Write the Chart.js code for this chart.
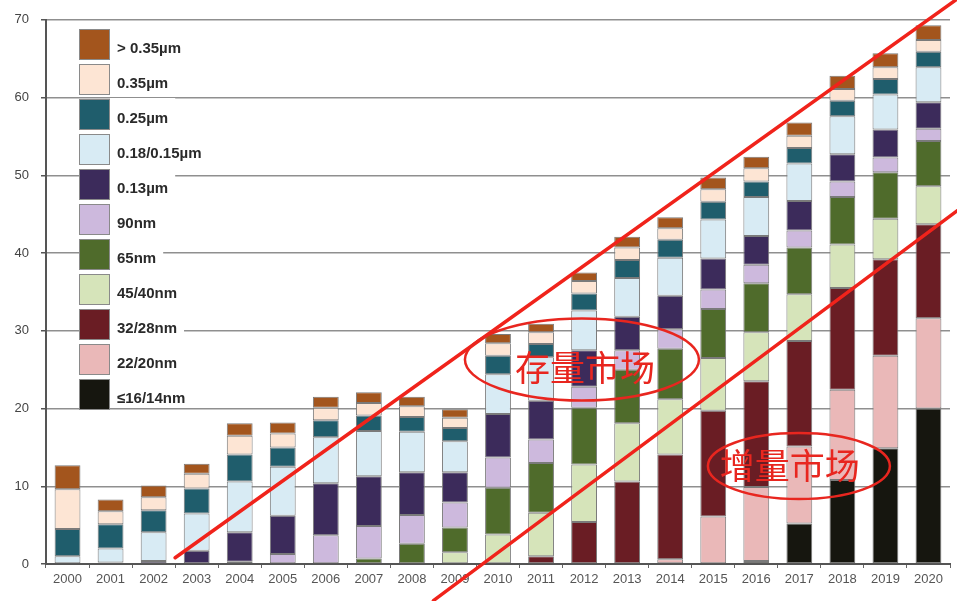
<!DOCTYPE html>
<html>
<head>
<meta charset="utf-8">
<script src="https://cdn.jsdelivr.net/npm/chart.js@4"></script>
<style>
  html, body { margin: 0; padding: 0; background: #fff; }
  #wrap { width: 957px; height: 601px; }
</style>
</head>
<body>
<div id="wrap"><canvas id="chart" width="957" height="601"></canvas></div>
<script>
// Foundry capacity by node, 2000-2020 (stacked, bottom -> top)
const years = ['2000','2001','2002','2003','2004','2005','2006','2007','2008','2009','2010',
               '2011','2012','2013','2014','2015','2016','2017','2018','2019','2020'];
const yTicks = [0, 10, 20, 30, 40, 50, 60, 70];

const nodeNames = ['≤16/14nm', '22/20nm', '32/28nm', '45/40nm', '65nm', '90nm',
                   '0.13µm', '0.18/0.15µm', '0.25µm', '0.35µm', '> 0.35µm'];
const nodeColors = ['#16160f', '#eab8b8', '#6a1d24', '#d6e4ba', '#4f6b2b', '#cdb9dd',
                    '#3c2b5b', '#d8ebf4', '#1f5d6c', '#fde5d4', '#a3551d'];

const n16  = [0,0,0,0,0,0,0,0,0,0,0,0,0,0,0,0,0.4,5.2,10.8,14.9,20.0];
const n22  = [0,0,0,0,0,0,0,0,0,0,0,0,0,0,0.6,6.1,9.5,9.9,11.6,11.9,11.6];
const n32  = [0,0,0,0,0,0,0,0,0,0,0,1.0,5.4,10.6,13.5,13.6,13.6,13.6,13.1,12.4,12.1];
const n45  = [0,0,0,0,0,0,0,0,0,1.5,3.8,5.6,7.4,7.5,7.1,6.8,6.3,6.0,5.6,5.2,4.9];
const n65  = [0,0,0,0,0,0,0,0.7,2.6,3.2,6.0,6.4,7.3,6.9,6.5,6.3,6.3,6.0,6.1,6.0,5.8];
const n90  = [0,0,0,0,0.3,1.3,3.7,4.2,3.7,3.2,3.9,3.0,2.7,2.5,2.5,2.5,2.4,2.2,2.0,1.9,1.6];
const n130 = [0,0.2,0.4,1.7,3.8,4.9,6.7,6.4,5.5,3.9,5.6,5.0,4.7,4.3,4.3,4.0,3.7,3.8,3.5,3.6,3.4];
const n180 = [1.0,1.8,3.7,4.8,6.5,6.3,5.9,5.8,5.2,4.0,5.1,5.6,5.1,5.0,4.9,5.0,5.0,4.8,4.9,4.5,4.5];
const n250 = [3.5,3.1,2.8,3.2,3.5,2.5,2.2,2.0,1.9,1.7,2.4,1.7,2.2,2.3,2.3,2.3,2.0,2.0,2.0,2.0,2.0];
const n350 = [5.1,1.7,1.7,1.9,2.4,1.8,1.6,1.6,1.4,1.3,1.6,1.5,1.6,1.6,1.5,1.6,1.7,1.6,1.5,1.5,1.5];
const nGt  = [3.1,1.5,1.5,1.3,1.6,1.4,1.4,1.4,1.2,1.1,1.2,1.1,1.1,1.4,1.4,1.5,1.5,1.7,1.7,1.8,1.9];

const seriesValues = [n16, n22, n32, n45, n65, n90, n130, n180, n250, n350, nGt];

// Red hand-drawn annotations, given in data units (category index, value)
const marketLines = [
    [[2.5, 0.8], [20.9, 73.6]],
    [[8.5, -4.7], [20.9, 46.4]]
];
const marketNotes = [
    { text: '存量市场', ellipse: [11.95, 26.3], textAt: [12.02, 25.3], rx: 117, ry: 41 },
    { text: '增量市场', ellipse: [16.99, 12.6], textAt: [16.78, 12.6], rx: 91, ry: 33 }
];

const datasets = seriesValues.map((vals, i) => ({
    label: nodeNames[i],
    data: vals,
    backgroundColor: nodeColors[i],
    borderColor: '#7a7a7a',
    borderWidth: 1,
    borderSkipped: false,
    barPercentage: 0.6,
    categoryPercentage: 1
}));

// legend drawn inside the plot, top entry = top of stack
const boxLegend = {
    id: 'boxLegend',
    afterDatasetsDraw(chart) {
        const ctx = chart.ctx;
        ctx.save();
        ctx.font = 'bold 15px "Liberation Sans", Arial, sans-serif';
        ctx.textBaseline = 'middle';
        const order = nodeNames.map((_, i) => i).reverse();
        order.forEach((idx, row) => {
            const top = 29 + row * 35;
            const w = ctx.measureText(nodeNames[idx]).width;
            ctx.fillStyle = '#fff';
            ctx.fillRect(110, top - 1, w + 14, 28);
            ctx.fillStyle = nodeColors[idx];
            ctx.fillRect(79, top, 31, 31);
            ctx.strokeStyle = '#8a8a8a';
            ctx.lineWidth = 1;
            ctx.strokeRect(79.5, top + 0.5, 30, 30);
            ctx.fillStyle = '#2a2a2a';
            ctx.fillText(nodeNames[idx], 117, top + 20);
        });
        ctx.restore();
    }
};

const marketMarks = {
    id: 'marketMarks',
    afterDraw(chart) {
        const ctx = chart.ctx;
        const x = chart.scales.x, y = chart.scales.y;
        const px = p => [x.getPixelForValue(p[0]), y.getPixelForValue(p[1])];
        ctx.save();
        ctx.strokeStyle = '#f0231b';
        ctx.lineCap = 'round';
        ctx.lineWidth = 3.5;
        marketLines.forEach(seg => {
            const a = px(seg[0]), b = px(seg[1]);
            ctx.beginPath();
            ctx.moveTo(a[0], a[1]);
            ctx.lineTo(b[0], b[1]);
            ctx.stroke();
        });
        ctx.lineWidth = 2.5;
        ctx.strokeStyle = '#e8261f';
        ctx.fillStyle = '#e8261f';
        ctx.font = '35px "Noto Sans CJK SC", sans-serif';
        ctx.textAlign = 'center';
        ctx.textBaseline = 'middle';
        marketNotes.forEach(n => {
            const c = px(n.ellipse);
            ctx.beginPath();
            ctx.ellipse(c[0], c[1], n.rx, n.ry, 0, 0, Math.PI * 2);
            ctx.stroke();
            const t = px(n.textAt);
            ctx.fillText(n.text, t[0], t[1]);
        });
        ctx.restore();
    }
};

new Chart(document.getElementById('chart'), {
    type: 'bar',
    data: { labels: years, datasets: datasets },
    options: {
        responsive: false,
        animation: false,
        layout: { padding: { top: 18, right: 7, left: 0, bottom: 0 } },
        plugins: {
            legend: { display: false },
            tooltip: { enabled: false }
        },
        scales: {
            x: {
                stacked: true,
                afterFit: s => { s.height = 37; },
                grid: { drawOnChartArea: false, drawTicks: true, tickLength: 4, tickColor: '#666', offset: true },
                border: { color: '#555', width: 2 },
                ticks: { color: '#555', padding: 4, font: { size: 13, family: '"Liberation Sans", Arial' } }
            },
            y: {
                stacked: true,
                min: 0,
                max: 70,
                afterFit: s => { s.width = 46; },
                afterBuildTicks: s => { s.ticks = yTicks.map(v => ({ value: v })); },
                grid: { color: '#8f8f8f', lineWidth: 1.5, tickLength: 5, tickColor: '#555' },
                border: { color: '#555', width: 2 },
                ticks: { color: '#444', padding: 12, font: { size: 13, family: '"Liberation Sans", Arial' } }
            }
        }
    },
    plugins: [boxLegend, marketMarks]
});
</script>
</body>
</html>
